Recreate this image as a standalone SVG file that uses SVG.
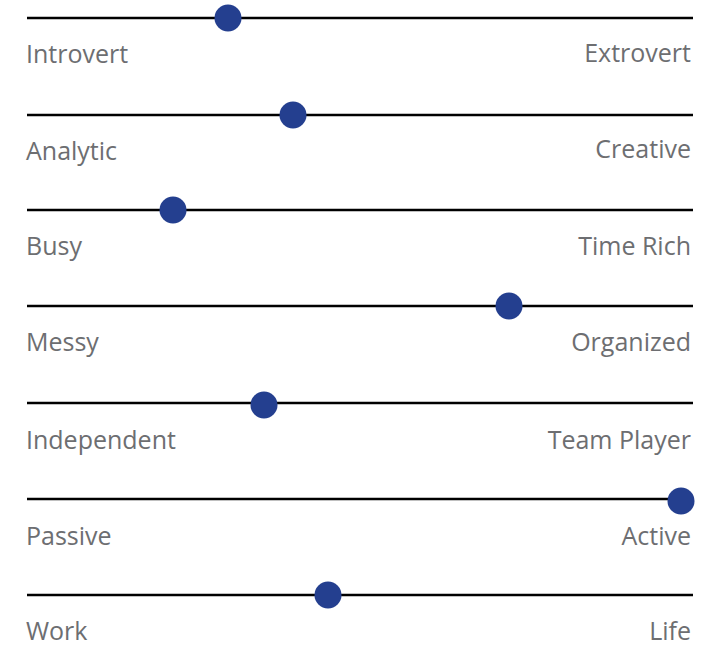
<svg xmlns="http://www.w3.org/2000/svg" width="701" height="646" viewBox="0 0 701 646">
  <style>
    .track { stroke: #000; stroke-width: 2.5; }
    .knob { fill: #243f8f; }
    .lbl { font-family: "Open Sans", "Noto Sans", sans-serif; font-size: 25px; fill: #6d6e71; }
    .end { text-anchor: end; }
  </style>
  <rect width="701" height="646" fill="#fff"/>
  <g id="scale-introvert">
    <line class="track" x1="27" y1="18" x2="693" y2="18"/>
    <circle class="knob" cx="228" cy="18" r="13.5"/>
    <text class="lbl" x="26" y="63">Introvert</text>
    <text class="lbl end" x="691" y="62">Extrovert</text>
  </g>
  <g id="scale-analytic">
    <line class="track" x1="27" y1="115" x2="693" y2="115"/>
    <circle class="knob" cx="293" cy="115" r="13.5"/>
    <text class="lbl" x="26" y="160">Analytic</text>
    <text class="lbl end" x="691" y="158">Creative</text>
  </g>
  <g id="scale-busy">
    <line class="track" x1="27" y1="210" x2="693" y2="210"/>
    <circle class="knob" cx="173" cy="210" r="13.5"/>
    <text class="lbl" x="26" y="255">Busy</text>
    <text class="lbl end" x="691" y="255">Time Rich</text>
  </g>
  <g id="scale-messy">
    <line class="track" x1="27" y1="306" x2="693" y2="306"/>
    <circle class="knob" cx="509" cy="306" r="13.5"/>
    <text class="lbl" x="26" y="351">Messy</text>
    <text class="lbl end" x="691" y="351">Organized</text>
  </g>
  <g id="scale-independent">
    <line class="track" x1="27" y1="403" x2="693" y2="403"/>
    <circle class="knob" cx="264" cy="405" r="13.5"/>
    <text class="lbl" x="26" y="449">Independent</text>
    <text class="lbl end" x="691" y="449">Team Player</text>
  </g>
  <g id="scale-passive">
    <line class="track" x1="27" y1="499" x2="693" y2="499"/>
    <circle class="knob" cx="681" cy="501" r="13.5"/>
    <text class="lbl" x="26" y="545">Passive</text>
    <text class="lbl end" x="691" y="545">Active</text>
  </g>
  <g id="scale-work">
    <line class="track" x1="27" y1="595" x2="693" y2="595"/>
    <circle class="knob" cx="328" cy="595" r="13.5"/>
    <text class="lbl" x="26" y="640">Work</text>
    <text class="lbl end" x="691" y="640">Life</text>
  </g>
</svg>
